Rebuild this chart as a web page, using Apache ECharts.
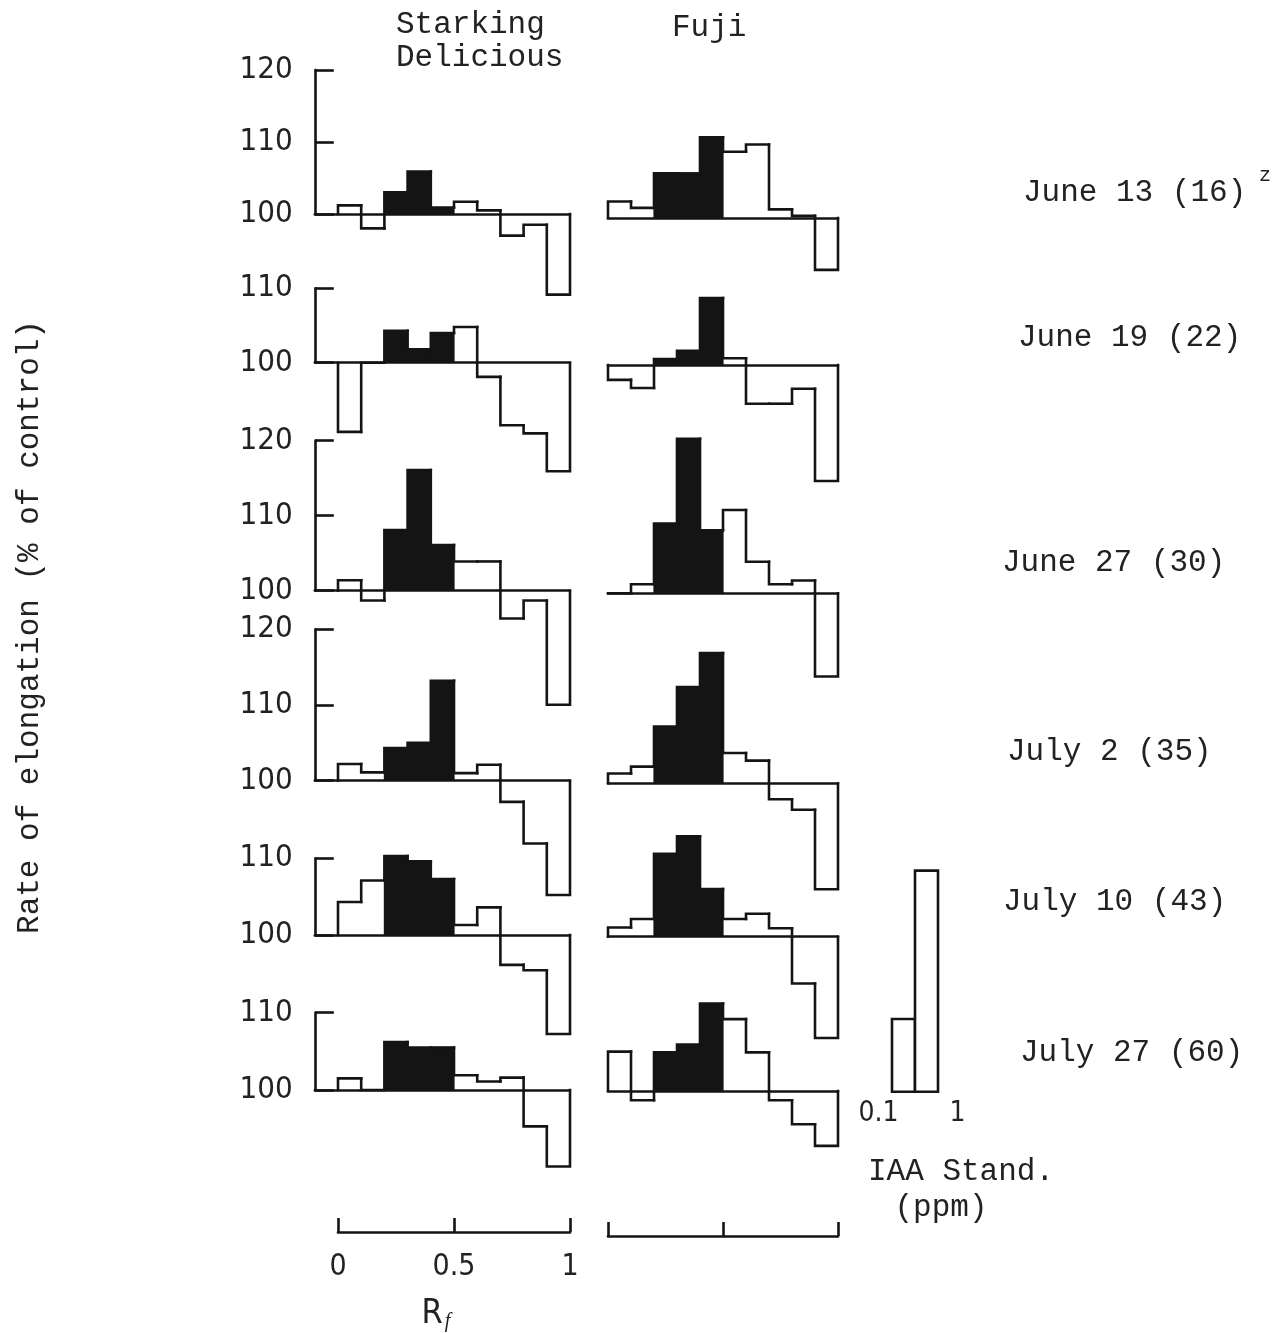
<!DOCTYPE html>
<html>
<head>
<meta charset="utf-8">
<title>Rate of elongation by Rf zone</title>
<script src="https://cdn.jsdelivr.net/npm/echarts@6/dist/echarts.min.js"></script>
<style>
  html, body { margin: 0; padding: 0; background: #fff; }
  #chart { width: 1272px; height: 1333px; }
</style>
</head>
<body>
<div id="chart"></div>
<script>
// ---- data: rate of elongation (% of control) per Rf zone (0-0.1 ... 0.9-1.0)
const rfEdges = [0, 0.1, 0.2, 0.3, 0.4, 0.5, 0.6, 0.7, 0.8, 0.9, 1.0];
const shadedZones = [2, 3, 4];           // Rf 0.2-0.5, zone of IAA
const sampleDates = ['June 13 (16)', 'June 19 (22)', 'June 27 (30)', 'July 2 (35)', 'July 10 (43)', 'July 27 (60)'];
const cultivars = ['Starking\nDelicious', 'Fuji'];

const starkingJun13 = [101.2, 98.0, 103.0, 105.9, 100.9, 101.7, 100.5, 97.0, 98.5, 88.8];
const starkingJun19 = [90.7, 100.0, 104.3, 101.8, 104.0, 104.8, 98.1, 91.6, 90.5, 85.4];
const starkingJun27 = [101.4, 98.7, 108.1, 116.1, 106.1, 103.9, 103.9, 96.3, 98.7, 84.8];
const starkingJul2  = [102.2, 101.1, 104.3, 105.0, 113.2, 101.0, 102.1, 97.2, 91.7, 84.9];
const starkingJul10 = [104.3, 107.1, 110.3, 109.6, 107.3, 101.3, 103.6, 96.1, 95.4, 87.1];
const starkingJul27 = [101.5, 100.0, 106.2, 105.5, 105.5, 101.9, 101.1, 101.6, 95.3, 90.1];

const fujiJun13 = [102.3, 101.4, 106.2, 106.2, 111.2, 109.2, 110.2, 101.2, 100.3, 92.8];
const fujiJun19 = [98.0, 96.9, 100.8, 101.9, 109.0, 100.9, 94.8, 94.8, 96.8, 84.4];
const fujiJun27 = [100.0, 101.2, 109.3, 120.6, 108.4, 111.1, 104.2, 101.2, 101.7, 88.9];
const fujiJul2  = [101.3, 102.2, 107.5, 112.7, 117.2, 104.0, 103.0, 97.9, 96.5, 86.0];
const fujiJul10 = [101.2, 102.3, 110.8, 113.1, 106.2, 102.3, 103.0, 101.1, 93.9, 86.8];
const fujiJul27 = [105.1, 98.8, 105.0, 106.0, 111.3, 109.3, 105.0, 98.8, 95.7, 92.9];

const iaaDoses  = ['0.1', '1'];
const iaaValues = [109.4, 128.6];

const rfTickLabels = ['0', '0.5', '1'];
const axisTops = [120, 110, 120, 120, 110, 110];

// ---- layout
const BASE = 100;
const INK = '#141414';
const LW = 2.6;
const MONO = "'Liberation Mono', 'DejaVu Sans Mono', monospace";
const NUM = "'Liberation Sans Narrow', 'DejaVu Sans Condensed', 'Liberation Sans', sans-serif";
const TXT = '#222222';

const LEFT_X = 314.8, LEFT_W = 255.2;     // Rf -0.1 .. 1.0
const RIGHT_X = 608, RIGHT_W = 230;       // Rf 0 .. 1.0
// baseline (y of 100 %) for each column and pixels per percent, row by row
const rowGeom = [
  { baseL: 214,   baseR: 218,   ppu: 7.2 },
  { baseL: 362.7, baseR: 365,   ppu: 7.44 },
  { baseL: 590.7, baseR: 593.3, ppu: 7.5 },
  { baseL: 780.7, baseR: 783.3, ppu: 7.57 },
  { baseL: 935,   baseR: 936.7, ppu: 7.67 },
  { baseL: 1090,  baseR: 1091,  ppu: 7.73 }
];
const dateX = [1023, 1018, 1002, 1007, 1003, 1020];
const dateY = [193, 338, 563, 752, 902, 1053];

const starkingRows = [starkingJun13, starkingJun19, starkingJun27, starkingJul2, starkingJul10, starkingJul27];
const fujiRows = [fujiJun13, fujiJun19, fujiJun27, fujiJul2, fujiJul10, fujiJul27];

// step outline of one histogram, drawn zone by zone
function stepRenderer(values) {
  return function (params, api) {
    const i = params.dataIndex;
    const x0 = api.value(0), x1 = api.value(1), v = api.value(2);
    const prev = i === 0 ? BASE : values[i - 1];
    const tl = api.coord([x0, v]);
    const tr = api.coord([x1, v]);
    const b0 = api.coord([x0, BASE]);
    const b1 = api.coord([x1, BASE]);
    const pv = api.coord([x0, prev]);
    const children = [];
    if (shadedZones.indexOf(i) >= 0) {
      // slight overlap so neighbouring shaded zones merge without seams
      children.push({
        type: 'rect',
        shape: { x: tl[0] - 0.6, y: Math.min(tl[1], b0[1]), width: tr[0] - tl[0] + 1.2, height: Math.abs(b0[1] - tl[1]) },
        style: { fill: INK }
      });
    }
    const pts = [pv, tl, tr];
    if (i === values.length - 1) pts.push(b1);
    children.push({
      type: 'polyline',
      shape: { points: pts },
      style: { stroke: INK, lineWidth: LW, fill: null, lineJoin: 'miter', lineCap: 'square' }
    });
    return { type: 'group', children: children };
  };
}

function zoneData(values) {
  return values.map((v, i) => [rfEdges[i], rfEdges[i + 1], v]);
}

const grid = [], xAxis = [], yAxis = [], series = [];

for (let r = 0; r < 6; r++) {
  const g = rowGeom[r];
  const top = axisTops[r];
  const h = g.ppu * (top - BASE);
  [0, 1].forEach(function (c) {
    const idx = grid.length;
    const base = c === 0 ? g.baseL : g.baseR;
    grid.push({ left: c === 0 ? LEFT_X : RIGHT_X, width: c === 0 ? LEFT_W : RIGHT_W, top: base - h, height: h });
    xAxis.push({
      gridIndex: idx, type: 'value', min: c === 0 ? -0.1 : 0, max: 1,
      axisLine: { show: true, onZero: false, lineStyle: { color: INK, width: LW } },
      axisTick: { show: false }, axisLabel: { show: false }, splitLine: { show: false }
    });
    yAxis.push({
      gridIndex: idx, type: 'value', min: BASE, max: top, interval: 10,
      axisLine: { show: c === 0, onZero: false, lineStyle: { color: INK, width: LW } },
      axisTick: { show: c === 0, inside: true, length: 19, lineStyle: { color: INK, width: LW } },
      axisLabel: { show: c === 0, margin: 22, fontFamily: NUM, fontSize: 31, color: TXT, showMinLabel: true, showMaxLabel: true },
      splitLine: { show: false }
    });
    const values = c === 0 ? starkingRows[r] : fujiRows[r];
    series.push({
      type: 'custom', xAxisIndex: idx, yAxisIndex: idx, clip: false, silent: true,
      dimensions: ['from', 'to', 'value'], encode: { x: [0, 1], y: 2 },
      renderItem: stepRenderer(values),
      data: zoneData(values)
    });
  });
}

// IAA standard
const iaaIdx = grid.length;
const iaaPpu = rowGeom[5].ppu;
const iaaBase = 1091.7;
grid.push({ left: 892, width: 46, top: iaaBase - iaaPpu * 30, height: iaaPpu * 30 });
xAxis.push({
  gridIndex: iaaIdx, type: 'category', data: iaaDoses,
  axisLine: { show: false }, axisTick: { show: false },
  axisLabel: {
    margin: 8, interval: 0, hideOverlap: false,
    formatter: function (v, i) { return i === 0 ? '{a|' + v + '}' : '{b|' + v + '}'; },
    rich: {
      a: { fontFamily: NUM, fontSize: 28, color: TXT, padding: [0, 50, 0, 0] },
      b: { fontFamily: NUM, fontSize: 28, color: TXT, padding: [0, 0, 0, 62] }
    }
  }
});
yAxis.push({ gridIndex: iaaIdx, type: 'value', min: BASE, max: 130, show: false });
series.push({
  type: 'custom', xAxisIndex: iaaIdx, yAxisIndex: iaaIdx, clip: false, silent: true,
  renderItem: function (params, api) {
    const t = api.coord([api.value(0), api.value(1)]);
    const b = api.coord([api.value(0), BASE]);
    const w = api.size([1, 0])[0];
    return {
      type: 'rect',
      shape: { x: t[0] - w / 2, y: t[1], width: w, height: b[1] - t[1] },
      style: { fill: '#fff', stroke: INK, lineWidth: LW }
    };
  },
  data: iaaValues.map((v, i) => [i, v])
});

// Rf scale bars under both columns
[[338, 232, true], [608, 230, false]].forEach(function (a) {
  const idx = grid.length;
  grid.push({ left: a[0], width: a[1], top: 1200, height: 36 });
  xAxis.push({
    gridIndex: idx, type: 'value', min: 0, max: 1, interval: 0.5,
    axisLine: { show: true, onZero: false, lineStyle: { color: INK, width: LW } },
    axisTick: { show: true, inside: true, length: 14, lineStyle: { color: INK, width: LW } },
    axisLabel: {
      show: a[2], margin: 20, fontFamily: NUM, fontSize: 30, color: TXT,
      showMinLabel: true, showMaxLabel: true,
      formatter: function (v) { return rfTickLabels[Math.round(v * 2)]; }
    },
    splitLine: { show: false },
    name: a[2] ? '{r|R}{f|f}' : '',
    nameLocation: 'middle', nameGap: 64,
    nameTextStyle: {
      padding: [0, 36, 0, 0],
      rich: {
        r: { fontFamily: NUM, fontSize: 34, color: TXT },
        f: { fontFamily: "'Liberation Serif', serif", fontStyle: 'italic', fontSize: 20, color: TXT, padding: [16, 0, 0, 2] }
      }
    }
  });
  yAxis.push({ gridIndex: idx, type: 'value', min: 0, max: 1, show: false });
});

// texts
const textStyle = { fontFamily: MONO, fontSize: 31, fill: TXT };
const graphic = [
  { type: 'text', x: 396, y: 25, style: Object.assign({}, textStyle, { text: cultivars[0].split('\n')[0], align: 'left', verticalAlign: 'middle' }) },
  { type: 'text', x: 396, y: 58, style: Object.assign({}, textStyle, { text: cultivars[0].split('\n')[1], align: 'left', verticalAlign: 'middle' }) },
  { type: 'text', x: 672, y: 28, style: Object.assign({}, textStyle, { text: cultivars[1], align: 'left', verticalAlign: 'middle' }) },
  { type: 'text', x: 30, y: 627, rotation: Math.PI / 2, style: Object.assign({}, textStyle, { text: 'Rate of elongation (% of control)', align: 'center', verticalAlign: 'middle' }) },
  { type: 'text', x: 868, y: 1172, style: Object.assign({}, textStyle, { text: 'IAA Stand.', align: 'left', verticalAlign: 'middle' }) },
  { type: 'text', x: 941, y: 1208, style: Object.assign({}, textStyle, { text: '(ppm)', align: 'center', verticalAlign: 'middle' }) },
  { type: 'text', x: 1259, y: 176, style: Object.assign({}, textStyle, { text: 'z', fontSize: 20, align: 'left', verticalAlign: 'middle' }) }
];
sampleDates.forEach(function (d, r) {
  graphic.push({ type: 'text', x: dateX[r], y: dateY[r], style: Object.assign({}, textStyle, { text: d, align: 'left', verticalAlign: 'middle' }) });
});

const chart = echarts.init(document.getElementById('chart'), null, { renderer: 'canvas' });
chart.setOption({
  backgroundColor: '#ffffff',
  animation: false,
  grid: grid,
  xAxis: xAxis,
  yAxis: yAxis,
  series: series,
  graphic: graphic
});
</script>
</body>
</html>
